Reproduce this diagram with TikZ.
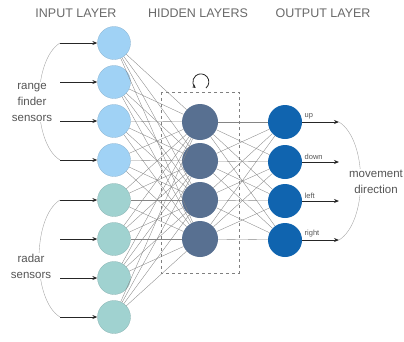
\documentclass[tikz,border=0pt]{standalone}
\usepackage{fontspec}
\setmainfont{Liberation Sans}
\usetikzlibrary{arrows.meta}
\definecolor{inblue}{RGB}{160,210,245}
\definecolor{inteal}{RGB}{160,210,208}
\definecolor{hidcol}{RGB}{88,112,145}
\definecolor{outcol}{RGB}{16,100,175}
\definecolor{titlegray}{RGB}{105,105,105}
\definecolor{labgray}{RGB}{85,85,85}
\begin{document}
\begin{tikzpicture}[x=1pt,y=-1pt,
  neuron/.style={circle,inner sep=0pt},
  inA/.style={neuron,minimum size=33pt,fill=inblue,draw=inblue!85!black,line width=0.3pt},
  inB/.style={neuron,minimum size=33pt,fill=inteal,draw=inteal!85!black,line width=0.3pt},
  hid/.style={neuron,minimum size=36pt,fill=hidcol},
  outn/.style={neuron,minimum size=34pt,fill=outcol},
  link/.style={draw=black!48,line width=0.35pt},
  sig/.style={draw=black!85,line width=0.9pt,-{Stealth[length=5pt,width=4pt]}},
  brace/.style={draw=black!35,line width=0.4pt},
  title/.style={font=\fontsize{12.5}{14}\selectfont,text=titlegray},
  side/.style={font=\fontsize{11.5}{16}\selectfont,text=labgray,align=center,fill=white,inner sep=1pt},
  tag/.style={font=\fontsize{7.5}{8}\selectfont,text=labgray,anchor=south west,inner sep=0.5pt}]
\useasboundingbox (0,0) rectangle (404,341);
% titles
\node[title] (t1) at (76,13) {INPUT LAYER};
\node[title] (t2) at (198,13) {HIDDEN LAYERS};
\node[title] (t3) at (323,13) {OUTPUT LAYER};
% dashed box
\draw[dashed,draw=black!50,line width=0.5pt] (161,92) rectangle (239,273);
% self loop above the box
\coordinate (lc) at (200,83);
\draw[draw=black!85,line width=0.8pt,-{Stealth[length=3.5pt,width=3.5pt]}] (206,88) arc[start angle=50, end angle=-230, radius=8];
% input nodes
\foreach \i/\y in {1/43,2/82,3/121,4/160}{\node[inA] (i\i) at (114,\y) {};}
\foreach \i/\y in {5/200,6/239,7/278,8/317}{\node[inB] (i\i) at (114,\y) {};}
% hidden
\foreach \i/\y in {1/122,2/161,3/200,4/239}{\node[hid] (h\i) at (200,\y) {};}
% output
\foreach \i/\y in {1/122,2/162,3/201,4/240}{\node[outn] (o\i) at (285,\y) {};}
% links
\foreach \i in {1,...,8}{\foreach \j in {1,...,4}{\draw[link] (i\i) -- (h\j);}}
\foreach \i in {1,...,4}{\foreach \j in {1,...,4}{\draw[link] (h\i) -- (o\j);}}
% input arrows
\foreach \i/\y in {1/43,2/82,3/121,4/160,5/200,6/239,7/278,8/317}{
  \coordinate (s\i) at (60,\y);
  \draw[sig] (s\i) -- (i\i.west);
}
% output arrows
\foreach \i/\y in {1/122,2/162,3/201,4/240}{
  \coordinate (e\i) at (339,\y);
  \draw[sig] (o\i.east) -- (e\i);
}
\node[tag] (l1) at (304,120) {up};
\node[tag] (l2) at (304,160) {down};
\node[tag] (l3) at (304,199) {left};
\node[tag] (l4) at (304,238) {right};
% braces
\draw[brace] (s1) .. controls (32,60) and (32,143) .. (s4);
\draw[brace] (s5) .. controls (32,217) and (32,300) .. (s8);
\draw[brace] (e1) .. controls (368,140) and (368,222) .. (e4);
% side labels
\node[side] (rf) at (32,102) {range\\finder\\sensors};
\node[side] (rd) at (31,266) {radar\\sensors};
\node[side] (md) at (376,182) {movement\\direction};
\end{tikzpicture}
\end{document}
